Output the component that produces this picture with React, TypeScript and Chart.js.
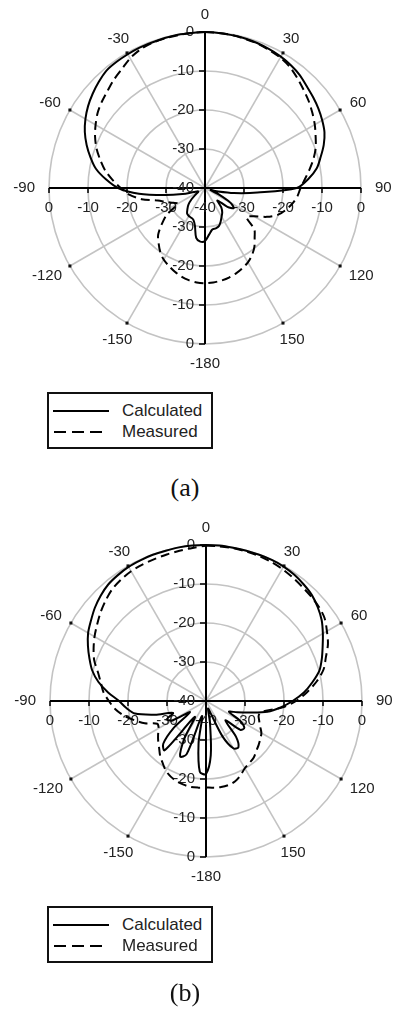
import React, { useEffect, useRef } from "react";
import { Chart, registerables } from "chart.js";

Chart.register(...registerables);

// Angle categories (degrees clockwise from top); 180..355 are -180..-5
const ANGLES = [
  0, 5, 10, 15, 20, 25, 30, 35, 40, 45, 50, 55, 60, 65, 70, 75, 80, 85,
  90, 95, 100, 105, 110, 115, 120, 125, 130, 135, 140, 145, 150, 155, 160, 165, 170, 175,
  180, 185, 190, 195, 200, 205, 210, 215, 220, 225, 230, 235, 240, 245, 250, 255, 260, 265,
  270, 275, 280, 285, 290, 295, 300, 305, 310, 315, 320, 325, 330, 335, 340, 345, 350, 355,
];

const ANGLE_TICKS = [0, 30, 60, 90, 120, 150, -180, -150, -120, -90, -60, -30];
const RADIAL_TICKS = [0, -10, -20, -30, -40];

// (a)
const CALC_A = [
  0, -0.1, -0.2, -0.3, -0.5, -0.8, -1.1, -1.6, -2.2, -3.1, -3.8, -4.5, -5.3, -6.2, -7.6, -9.3, -10.9, -13.4,
  -16.5, -26.5, -32.5, -36.5, -38.5, -36, -32.5, -31, -32.5, -35.5, -33.5, -32.3, -31.5, -30.5, -29.6, -29.3, -29.2, -28,
  -26.4, -26.2, -27, -30, -31.3, -31.6, -31.7, -32, -33, -34, -35.5, -37, -38, -38, -37, -34, -29.5, -23,
  -17.7, -14.5, -11.6, -9.6, -7.7, -6.0, -4.6, -3.4, -2.4, -1.5, -0.7, -0.5, -0.4, -0.3, -0.3, -0.2, -0.1, -0.1,
];
const MEAS_A = [
  0, -0.1, -0.2, -0.4, -0.6, -1.0, -1.4, -2.1, -3.2, -4.3, -5.3, -6.4, -7.5, -8.7, -9.8, -11.2, -12.8, -14.3,
  -15.5, -16.2, -17.2, -18.5, -20, -22.5, -25.5, -27, -23.5, -22, -20.3, -19, -18, -17.3, -16.7, -16.2, -15.9, -15.7,
  -15.6, -15.7, -16, -16.5, -17.2, -18, -18.8, -20, -21.5, -23, -25.5, -28, -32, -31, -29.5, -27.5, -23.5, -20.5,
  -18.4, -16.2, -14.0, -12.2, -10.4, -8.9, -7.6, -6.4, -5.5, -4.7, -3.7, -2.8, -1.6, -0.8, -0.4, -0.3, -0.2, -0.1,
];

// (b)
const CALC_B = [
  0, 0, -0.1, -0.1, -0.1, -0.1, -0.2, -0.5, -1.0, -1.6, -2.6, -3.8, -5.4, -7.0, -8.4, -9.9, -12.3, -14.8,
  -17.8, -20.8, -24, -28.5, -31.5, -33.5, -30, -28, -28.5, -33, -28, -25.5, -26, -30, -37, -38, -34, -26,
  -21.3, -21.8, -29, -36, -25.5, -24.3, -29, -35, -23.5, -24.5, -29, -35, -30, -29, -31, -26.5, -21.5, -19.5,
  -17.7, -14.8, -12, -9.8, -8.2, -6.6, -5.1, -4.0, -2.8, -1.8, -1.0, -0.6, -0.3, -0.2, -0.1, -0.1, 0, 0,
];
const MEAS_B = [
  -0.2, -0.2, -0.2, -0.3, -0.4, -0.6, -0.9, -1.3, -1.7, -2.0, -2.3, -2.9, -4.2, -5.5, -7.3, -8.8, -11.2, -14,
  -16.9, -20.5, -25, -26, -25.5, -24.7, -23.6, -23, -22.4, -21.8, -21, -20.6, -20.1, -19, -18.1, -17.7, -17.6, -17.7,
  -17.8, -17.7, -17.6, -17.8, -18.1, -18.6, -19.4, -20.6, -21.7, -23, -24, -25, -26, -26.2, -23.3, -21, -18.6, -16.6,
  -15.1, -13.6, -12.6, -11.3, -9.5, -8.2, -7, -5.9, -4.7, -3.6, -2.6, -2.0, -1.6, -1.4, -1.3, -1.1, -0.9, -0.6,
];

const SERIES_NAMES = ["Calculated", "Measured"];

const FONT = "Arial, 'Liberation Sans', Helvetica, sans-serif";
const GRID = "#c3c3c3";

const axesPlugin = {
  id: "polarAxes",
  beforeDatasetsDraw(chart: any) {
    const s = chart.scales.r;
    const ctx = chart.ctx as CanvasRenderingContext2D;
    const cx = s.xCenter;
    const cy = s.yCenter;
    const R = s.getDistanceFromCenterForValue(s.max);
    ctx.save();
    // black cross axes
    ctx.strokeStyle = "#000";
    ctx.lineWidth = 2;
    ctx.beginPath();
    ctx.moveTo(cx - R, cy);
    ctx.lineTo(cx + R, cy);
    ctx.moveTo(cx, cy - R);
    ctx.lineTo(cx, cy + R);
    ctx.stroke();
    // tick marks
    ctx.lineWidth = 1.5;
    ctx.beginPath();
    RADIAL_TICKS.forEach((v) => {
      const d = s.getDistanceFromCenterForValue(v);
      ctx.moveTo(cx - 6, cy - d);
      ctx.lineTo(cx, cy - d);
      ctx.moveTo(cx - 6, cy + d);
      ctx.lineTo(cx, cy + d);
      ctx.moveTo(cx - d, cy);
      ctx.lineTo(cx - d, cy + 5);
      ctx.moveTo(cx + d, cy);
      ctx.lineTo(cx + d, cy + 5);
    });
    ctx.stroke();
    // radial value labels
    ctx.font = `15px ${FONT}`;
    ctx.fillStyle = "#222";
    ctx.textBaseline = "middle";
    ctx.textAlign = "right";
    RADIAL_TICKS.forEach((v) => {
      const d = s.getDistanceFromCenterForValue(v);
      ctx.fillText(String(v), cx - 11, cy - d);
      if (d > 0.5) ctx.fillText(String(v), cx - 11, cy + d);
    });
    ctx.textAlign = "center";
    RADIAL_TICKS.forEach((v) => {
      const d = s.getDistanceFromCenterForValue(v);
      ctx.fillText(String(v), cx - d, cy + 20);
      if (d > 0.5) ctx.fillText(String(v), cx + d, cy + 20);
    });
    // angle labels and dots
    ANGLE_TICKS.forEach((a) => {
      const idx = ANGLES.indexOf(((a % 360) + 360) % 360);
      const label = String(a);
      const p = s.getPointPosition(idx, R);
      if (a % 90 !== 0) {
        ctx.fillStyle = "#111";
        ctx.fillRect(p.x - 1.5, p.y - 1.5, 3, 3);
      }
      const ang = s.getIndexAngle(idx);
      const sn = Math.sin(ang);
      const cs = Math.cos(ang);
      const base = s.getPointPosition(idx, R + 10);
      const w = ctx.measureText(label).width;
      const sx = Math.abs(sn) < 1e-6 ? 0 : Math.sign(sn);
      const sy = Math.abs(cs) < 1e-6 ? 0 : Math.sign(cs);
      const x = base.x + sx * sn * sn * (w / 2 + 4);
      const y = base.y - sy * cs * cs * 7 + (cs < -0.1 ? 3 : 0);
      ctx.fillStyle = "#222";
      ctx.textAlign = "center";
      ctx.textBaseline = "middle";
      ctx.fillText(label, x, y);
    });
    ctx.restore();
  },
};

type PolarProps = {
  calc: number[];
  meas: number[];
  top: number;
  height: number;
  pad: { left: number; right: number; top: number; bottom: number };
};

function PolarChart({ calc, meas, top, height, pad }: PolarProps) {
  const ref = useRef<HTMLCanvasElement | null>(null);
  useEffect(() => {
    if (!ref.current) return;
    const chart = new Chart(ref.current, {
      type: "radar",
      data: {
        labels: ANGLES.map((a) => String(a)),
        datasets: [
          {
            label: SERIES_NAMES[0],
            data: calc,
            borderColor: "#000",
            backgroundColor: "transparent",
            borderWidth: 2,
            pointRadius: 0,
            fill: false,
            tension: 0.3,
          },
          {
            label: SERIES_NAMES[1],
            data: meas,
            borderColor: "#000",
            backgroundColor: "transparent",
            borderWidth: 2,
            borderDash: [9, 5],
            pointRadius: 0,
            fill: false,
            tension: 0.3,
          },
        ],
      },
      options: {
        responsive: false,
        animation: false,
        layout: { padding: pad },
        plugins: { legend: { display: false }, tooltip: { enabled: false } },
        scales: {
          r: {
            min: -40,
            max: 0,
            startAngle: 0,
            ticks: { display: false, stepSize: 10 },
            pointLabels: { display: false },
            grid: { circular: true, color: GRID, lineWidth: 1.6 },
            angleLines: {
              color: GRID,
              lineWidth: (c: any) => (c.index % 6 === 0 ? 1.6 : 0),
            },
          },
        },
      } as any,
      plugins: [axesPlugin],
    });
    return () => chart.destroy();
  }, [calc, meas, pad]);
  return (
    <canvas
      ref={ref}
      width={395}
      height={height}
      style={{ position: "absolute", left: 0, top, width: 395, height, display: "block" }}
    />
  );
}

function Legend({ top }: { top: number }) {
  const row = (y: number, dashed: boolean, text: string) => (
    <div style={{ position: "absolute", left: 0, top: y - 12, height: 24, width: 162 }}>
      {dashed ? (
        [0, 1, 2].map((i) => (
          <div
            key={i}
            style={{ position: "absolute", left: 5 + i * 18, top: 11, width: 12, height: 2, background: "#000" }}
          />
        ))
      ) : (
        <div style={{ position: "absolute", left: 4, top: 11, width: 56, height: 2, background: "#000" }} />
      )}
      <div
        style={{
          position: "absolute",
          left: 73,
          top: 0,
          lineHeight: "24px",
          fontSize: 17,
          fontFamily: FONT,
          color: "#222",
          whiteSpace: "nowrap",
        }}
      >
        {text}
      </div>
    </div>
  );
  return (
    <div
      style={{
        position: "absolute",
        left: 47,
        top,
        width: 166,
        height: 57,
        boxSizing: "border-box",
        border: "2px solid #111",
        background: "#fff",
      }}
    >
      {row(17, false, SERIES_NAMES[0])}
      {row(38, true, SERIES_NAMES[1])}
    </div>
  );
}

function Caption({ text, cy }: { text: string; cy: number }) {
  return (
    <div
      style={{
        position: "absolute",
        left: 135,
        width: 100,
        top: cy - 16,
        height: 32,
        lineHeight: "32px",
        textAlign: "center",
        fontSize: 26,
        fontFamily: "'Times New Roman', 'Liberation Serif', serif",
        color: "#111",
      }}
    >
      {text}
    </div>
  );
}

const PAD_A = { left: 49, right: 34, top: 32, bottom: 41 };
const PAD_B = { left: 50, right: 33, top: 35, bottom: 53 };

export default function App() {
  return (
    <div style={{ position: "absolute", left: 0, top: 0, width: 395, height: 1014, background: "#fff", overflow: "hidden" }}>
      <PolarChart calc={CALC_A} meas={MEAS_A} top={0} height={385} pad={PAD_A} />
      <Legend top={392} />
      <Caption text="(a)" cy={488} />
      <PolarChart calc={CALC_B} meas={MEAS_B} top={510} height={400} pad={PAD_B} />
      <Legend top={906} />
      <Caption text="(b)" cy={993} />
    </div>
  );
}
